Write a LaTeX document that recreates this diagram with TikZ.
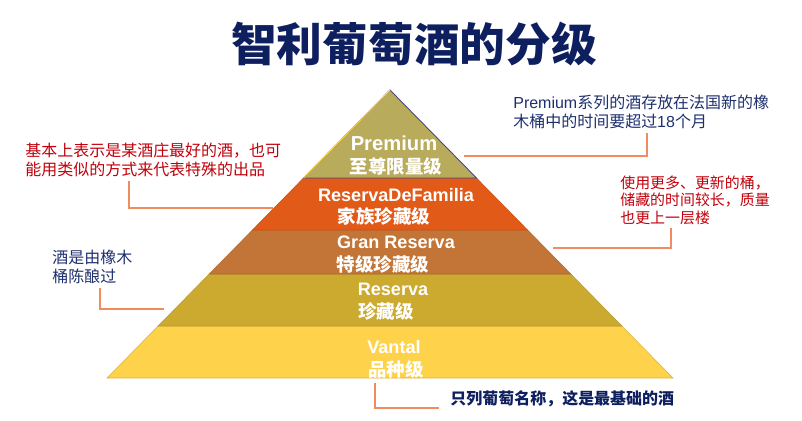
\documentclass[tikz,border=0pt]{standalone}
\usepackage{fontspec}
\setmainfont{Liberation Sans}
\newfontfamily\cjk{Noto Sans CJK SC}
\usetikzlibrary{positioning, calc}
\definecolor{titlenavy}{RGB}{14, 31, 95}
\definecolor{notenavy}{RGB}{30, 47, 110}
\definecolor{notered}{RGB}{192, 0, 10}
\definecolor{linkorange}{RGB}{240, 140, 96}
\definecolor{premfill}{RGB}{185, 171, 92}
\definecolor{premedge}{RGB}{70, 70, 135}
\definecolor{familiafill}{RGB}{226, 90, 23}
\definecolor{granfill}{RGB}{194, 117, 54}
\definecolor{reservafill}{RGB}{203, 170, 47}
\definecolor{vantalfill}{RGB}{255, 210, 75}

\begin{document}
\begin{tikzpicture}[
    x=0.02cm, y=-0.02cm,
    title/.style={text=titlenavy, inner sep=0pt, font=\fontsize{26}{30}\selectfont\cjk\bfseries},
    tiertxt/.style={text=white, inner sep=0pt, font=\fontsize{10.3}{12}\selectfont\bfseries},
    tiercn/.style={text=white, inner sep=0pt, font=\fontsize{10.5}{12}\selectfont\cjk\bfseries},
    note/.style={anchor=west, align=left, inner sep=0pt, font=\fontsize{9.1}{11.2}\selectfont\cjk},
    link/.style={draw=linkorange, line width=1.2pt},
]
\useasboundingbox (0,0) rectangle (802,420);

% Title
\node[title] (title) at (414,44) {智利葡萄酒的分级};

% Pyramid corners and tier boundaries
\coordinate (apex) at (390,90);
\coordinate (bl) at (107,378);
\coordinate (br) at (673,378);
\foreach \n/\t in {1/0.3056, 2/0.4861, 3/0.6389, 4/0.8194} {
  \coordinate (l\n) at ($(apex)!\t!(bl)$);
  \coordinate (r\n) at ($(apex)!\t!(br)$);
}

% Tiers
\filldraw[fill=vantalfill, draw=vantalfill!85!black, line width=0.3pt] (l4) -- (r4) -- (br) -- (bl) -- cycle;
\filldraw[fill=reservafill, draw=reservafill!90!black, line width=0.3pt] (l3) -- (r3) -- (r4) -- (l4) -- cycle;
\filldraw[fill=granfill, draw=granfill!90!black, line width=0.3pt] (l2) -- (r2) -- (r3) -- (l3) -- cycle;
\filldraw[fill=familiafill, draw=familiafill!90!black, line width=0.3pt] (l1) -- (r1) -- (r2) -- (l2) -- cycle;
\filldraw[fill=premfill, draw=premedge, line width=0.5pt] (apex) -- (r1) -- (l1) -- cycle;
\draw[vantalfill, line width=0.6pt] (apex) -- (l1);

% Tier labels
\node[tiertxt, font=\fontsize{11.5}{13}\selectfont\bfseries] (prem) at (394,143) {Premium};
\node[tiercn] (premcn) at (396,166) {至尊限量级};
\node[tiertxt] (familia) at (396,195) {ReservaDeFamilia};
\node[tiercn] (familiacn) at (384,216) {家族珍藏级};
\node[tiertxt] (gran) at (396,242) {Gran Reserva};
\node[tiercn] (grancn) at (383,264) {特级珍藏级};
\node[tiertxt] (reserva) at (393,289) {Reserva};
\node[tiercn] (reservacn) at (386,311) {珍藏级};
\node[tiertxt] (vantal) at (394,347) {Vantal};
\node[tiercn] (vantalcn) at (396,369) {品种级};

% Notes
\node[note, text=notered] (note1) at (25,160) {基本上表示是某酒庄最好的酒，也可\\能用类似的方式来代表特殊的出品};
\node[note, text=notenavy] (note2) at (513,112) {{\rmfamily Premium}系列的酒存放在法国新的橡\\木桶中的时间要超过{\rmfamily 18}个月};
\node[note, text=notered, font=\fontsize{8.5}{9.9}\selectfont\cjk] (note3) at (620,200) {使用更多、更新的桶，\\储藏的时间较长，质量\\也更上一层楼};
\node[note, text=notenavy, font=\fontsize{9.1}{10.8}\selectfont\cjk] (note4) at (52,267) {酒是由橡木\\桶陈酿过};
\node[note, text=titlenavy, font=\fontsize{9.1}{11}\selectfont\cjk\bfseries] (note5) at (450,399) {只列葡萄名称，这是最基础的酒};

% Connectors
\coordinate (k1) at (273,208);
\coordinate (k2) at (464,156);
\coordinate (k3) at (553,248);
\coordinate (k4) at (164,309);
\coordinate (k5) at (439,408);
\draw[link] ([yshift=-2pt]note1.south -| 129,0) |- (k1);
\draw[link] ([yshift=-2pt]note2.south -| 647,0) |- (k2);
\draw[link] ([yshift=-2pt]note3.south -| 671,0) |- (k3);
\draw[link] ([yshift=-2pt]note4.south -| 100,0) |- (k4);
\draw[link] (vantalcn.south -| 375,0) ++(0,5) |- (k5);

\end{tikzpicture}
\end{document}
